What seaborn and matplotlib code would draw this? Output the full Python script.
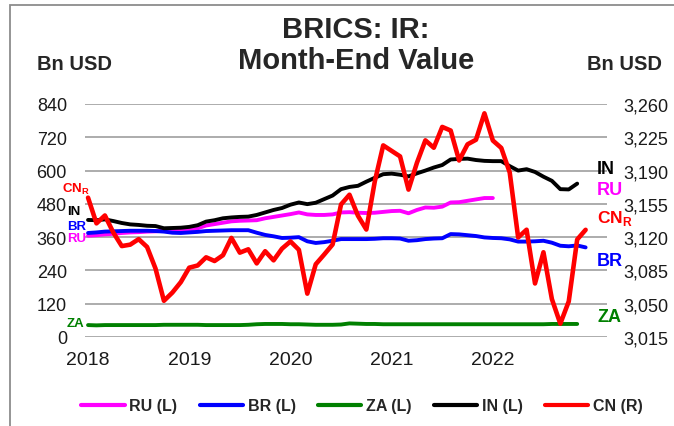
"""
plot.py
-------
BRICS international reserves, month-end value (Bn USD).
"""

import matplotlib
matplotlib.use("Agg")

import matplotlib.pyplot as plt
import numpy as np
import pandas as pd
import seaborn as sns
from matplotlib.lines import Line2D
from matplotlib.patches import Rectangle

# ---------------------------------
# Data (monthly, from Jan 2018)
# ---------------------------------

cn = [3161.5, 3134.5, 3142.8, 3124.8, 3110.6, 3112.1, 3117.9, 3109.7, 3087.0, 3053.1, 3061.7, 3072.7,
      3087.9, 3090.2, 3098.8, 3094.9, 3101.0, 3119.2, 3103.7, 3107.2, 3092.4, 3105.2, 3095.6, 3107.9,
      3115.5, 3106.7, 3060.6, 3091.5, 3101.7, 3112.3, 3154.4, 3164.6, 3142.6, 3128.0, 3178.5, 3216.5,
      3210.7, 3204.9, 3170.0, 3198.2, 3221.8, 3214.0, 3235.9, 3232.1, 3200.6, 3217.6, 3222.4, 3250.2,
      3221.6, 3213.8, 3188.0, 3119.7, 3127.8, 3071.3, 3104.1, 3054.9, 3029.0, 3052.4, 3117.5, 3127.7]

india = [422, 421, 424, 418, 411, 406, 404, 401, 400, 392, 393, 394,
         397, 403, 416, 421, 428, 431, 433, 434, 440, 449, 458, 465,
         477, 485, 479, 484, 497, 510, 533, 541, 545, 560, 574, 587,
         589, 585, 579, 590, 600, 611, 620, 640, 642, 643, 638, 635,
         634, 634, 616, 600, 605, 595, 578, 563, 533, 532, 553]

russia = [365, 367, 370, 372, 375, 377, 378, 380, 381, 383, 384, 385,
          387, 392, 402, 407, 412, 417, 419, 420, 421, 428, 433, 438,
          443, 449, 442, 440, 440, 442, 449, 450, 448, 447, 448, 451,
          454, 455, 446, 458, 467, 466, 470, 485, 486, 491, 496, 501,
          501]

brazil = [375, 377, 380, 381, 382, 383, 383, 383, 382, 380, 376, 375,
          377, 379, 382, 383, 384, 385, 385, 385, 376, 368, 363, 357,
          358, 360, 345, 339, 342, 347, 353, 353, 353, 353, 354, 356,
          356, 355, 347, 349, 353, 355, 356, 371, 370, 367, 364, 359,
          357, 356, 352, 344, 344, 345, 347, 340, 329, 327, 330, 323]

safrica = [43, 42, 43, 43, 43, 43, 43, 43, 43, 44, 44, 44,
           44, 44, 43, 43, 43, 43, 43, 44, 46, 47, 47, 47,
           46, 46, 45, 44, 44, 44, 45, 49, 48, 47, 47, 46,
           46, 46, 46, 46, 46, 46, 46, 46, 46, 46, 46, 46,
           46, 46, 46, 46, 46, 46, 46, 47, 47, 47, 47]

left_ticks = [0, 120, 240, 360, 480, 600, 720, 840]
right_ticks = [3015, 3050, 3085, 3120, 3155, 3190, 3225, 3260]
year_ticks = [2018, 2019, 2020, 2021, 2022]

colors = {"RU": "#FF00FF", "BR": "#0000FF", "ZA": "#008000", "IN": "#000000", "CN": "#FF0000"}


def to_frame(values, name):
    months = np.arange(len(values))
    return pd.DataFrame({"year": 2018 + months / 12, "value": values, "country": name})


left_df = pd.concat([
    to_frame(russia, "RU"),
    to_frame(brazil, "BR"),
    to_frame(safrica, "ZA"),
    to_frame(india, "IN"),
])
cn_df = to_frame(cn, "CN")

# ---------------------------------
# Style
# ---------------------------------

sns.set_style("white")
plt.rcParams["font.family"] = ["Liberation Sans", "DejaVu Sans"]
plt.rcParams["mathtext.fontset"] = "custom"
plt.rcParams["mathtext.bf"] = "Liberation Sans:bold"
plt.rcParams["mathtext.rm"] = "Liberation Sans"

fig = plt.figure(figsize=(6.74, 4.27), dpi=100)
ax = fig.add_axes([85 / 674, 89 / 427, 522 / 674, 233 / 427])

# ---------------------------------
# Lines
# ---------------------------------

sns.lineplot(
    data=left_df, x="year", y="value", hue="country",
    palette=colors, linewidth=2.8, legend=False, ax=ax
)

ax2 = ax.twinx()
sns.lineplot(data=cn_df, x="year", y="value", color=colors["CN"], linewidth=3.3, ax=ax2)

ax.set_xlim(2017.970, 2023.128)
ax.set_ylim(0, 840)
ax2.set_ylim(3015, 3260)

ax.set_yticks(left_ticks)
ax2.set_yticks(right_ticks)
ax2.set_yticklabels([f"{t:,}" for t in right_ticks])
ax.set_xticks(year_ticks)
ax.set_xticklabels([str(y) for y in year_ticks])

ax.grid(axis="y", color="#A6A6A6", linewidth=1.3)
ax.grid(axis="x", visible=False)
ax2.grid(False)

for a in (ax, ax2):
    for s in a.spines.values():
        s.set_visible(False)
    a.set_xlabel("")
    a.set_ylabel("")
    a.patch.set_visible(False)

ax.tick_params(axis="y", length=0, pad=13, labelsize=13, colors="#1a1a1a")
ax.tick_params(axis="x", length=0, pad=10, labelsize=14, colors="#1a1a1a")
ax2.tick_params(axis="y", length=0, pad=11.5, labelsize=13, colors="#1a1a1a")

# ---------------------------------
# Series labels
# ---------------------------------

def px_label(px, py, text, color, size):
    ax.text((px - 85) / 522, (338 - py) / 233, text, color=color, fontsize=size,
            fontweight="bold", ha="left", va="center", transform=ax.transAxes, clip_on=False)


px_label(62, 189, r"CN$_{\mathbf{R}}$", colors["CN"], 9.5)
px_label(67, 212, "IN", colors["IN"], 9.5)
px_label(67, 227, "BR", colors["BR"], 9.5)
px_label(67, 239, "RU", colors["RU"], 9.5)
px_label(67, 324, "ZA", colors["ZA"], 9.5)

px_label(597, 170, "IN", colors["IN"], 13)
px_label(597, 191, "RU", colors["RU"], 13)
px_label(597, 219, r"CN$_{\mathbf{R}}$", colors["CN"], 12.5)
px_label(597, 262, "BR", colors["BR"], 13)
px_label(597, 318, "ZA", colors["ZA"], 13)

# ---------------------------------
# Titles and frame
# ---------------------------------

fig.text(356 / 674, 1 - 30 / 427, "BRICS: IR:", ha="center", va="center",
         fontsize=21, fontweight="bold")
fig.text(356 / 674, 1 - 61 / 427, "Month-End Value", ha="center", va="center",
         fontsize=21, fontweight="bold")
fig.text(37 / 674, 1 - 65 / 427, "Bn USD", ha="left", va="center",
         fontsize=14.5, fontweight="bold")
fig.text(587 / 674, 1 - 65 / 427, "Bn USD", ha="left", va="center",
         fontsize=14.5, fontweight="bold")

fig.add_artist(Rectangle((10 / 674, -0.05), 1.0, 1.05 - 6 / 427, transform=fig.transFigure,
                         fill=False, edgecolor="#8C8C8C", linewidth=1.3))

# ---------------------------------
# Legend
# ---------------------------------

names = ["RU (L)", "BR (L)", "ZA (L)", "IN (L)", "CN (R)"]
keys = ["RU", "BR", "ZA", "IN", "CN"]
handles = [Line2D([], [], color=colors[k], linewidth=3.0, solid_capstyle="round") for k in keys]

fig.legend(
    handles, names, loc="center", bbox_to_anchor=(362 / 674, 1 - 407 / 427),
    ncol=5, frameon=False, prop={"weight": "bold", "size": 11.5},
    handlelength=2.7, handletextpad=0.3, columnspacing=1.4
)

fig.savefig("out.png", dpi=100)
plt.close(fig)
